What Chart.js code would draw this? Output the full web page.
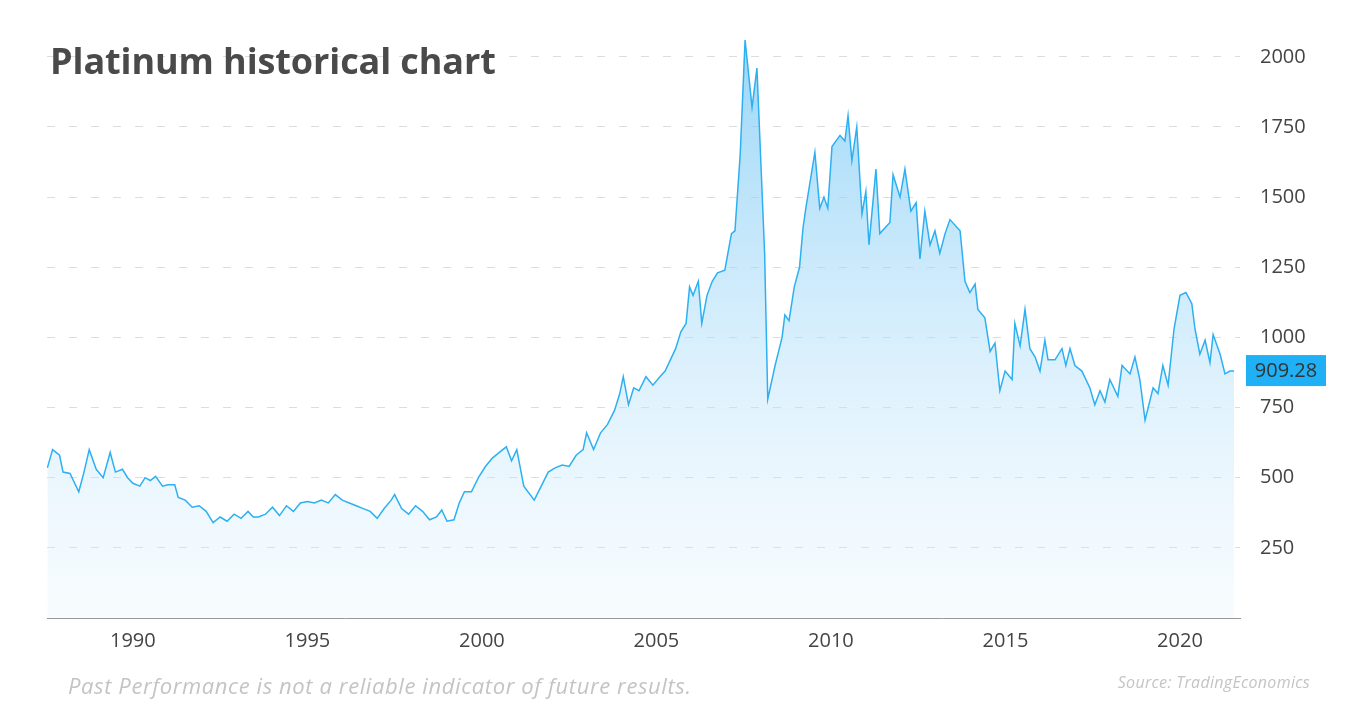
<!DOCTYPE html>
<html>
<head>
<meta charset="utf-8">
<script src="https://cdn.jsdelivr.net/npm/chart.js@4"></script>
<style>
  body { margin: 0; background: #fff; font-family: "Open Sans", sans-serif; }
  #wrap { position: relative; width: 1350px; height: 707px; }
  #title { position: absolute; left: 50px; top: 36px; font: bold 36px "Open Sans", sans-serif; color: #4a4a4a; letter-spacing: -0.1px; }
  #note { position: absolute; left: 68px; top: 670px; font: italic 22px "Open Sans", sans-serif; color: #c4c4c4; letter-spacing: 0.6px; }
  #src { position: absolute; right: 40px; top: 671px; font: italic 16px "Open Sans", sans-serif; color: #c4c4c4; letter-spacing: 0.3px; }
</style>
</head>
<body>
<div id="wrap">
  <canvas id="myChart" width="1350" height="707"></canvas>
  <div id="title">Platinum historical chart</div>
  <div id="note">Past Performance is not a reliable indicator of future results.</div>
  <div id="src">Source: TradingEconomics</div>
</div>
<script>
const years = [1987.55,1987.7,1987.9,1988.0,1988.2,1988.45,1988.6,1988.75,1988.95,1989.15,1989.35,1989.5,1989.7,1989.85,1990.0,1990.2,1990.35,1990.5,1990.65,1990.85,1991.0,1991.2,1991.3,1991.5,1991.7,1991.9,1992.1,1992.3,1992.5,1992.7,1992.9,1993.1,1993.3,1993.45,1993.6,1993.8,1994.0,1994.2,1994.4,1994.6,1994.8,1995.0,1995.2,1995.4,1995.6,1995.8,1996.0,1996.2,1996.4,1996.6,1996.8,1997.0,1997.2,1997.4,1997.5,1997.7,1997.9,1998.1,1998.3,1998.5,1998.7,1998.85,1999.0,1999.2,1999.35,1999.5,1999.7,1999.9,2000.1,2000.3,2000.5,2000.7,2000.85,2001.0,2001.2,2001.5,2001.7,2001.9,2002.1,2002.3,2002.5,2002.7,2002.9,2003.0,2003.2,2003.4,2003.6,2003.8,2003.95,2004.05,2004.2,2004.35,2004.5,2004.7,2004.9,2005.1,2005.25,2005.4,2005.55,2005.7,2005.85,2005.95,2006.05,2006.2,2006.3,2006.45,2006.6,2006.75,2006.96,2007.15,2007.25,2007.4,2007.54,2007.74,2007.88,2008.0,2008.1,2008.19,2008.4,2008.6,2008.68,2008.8,2008.95,2009.1,2009.2,2009.28,2009.54,2009.68,2009.80,2009.91,2010.03,2010.26,2010.40,2010.49,2010.60,2010.74,2010.89,2011.00,2011.09,2011.29,2011.40,2011.69,2011.78,2011.98,2012.12,2012.29,2012.44,2012.55,2012.69,2012.84,2012.98,2013.12,2013.27,2013.41,2013.70,2013.84,2013.98,2014.13,2014.21,2014.41,2014.56,2014.70,2014.84,2014.99,2015.19,2015.27,2015.42,2015.56,2015.70,2015.85,2015.99,2016.13,2016.22,2016.42,2016.62,2016.73,2016.85,2016.99,2017.19,2017.42,2017.56,2017.71,2017.85,2017.99,2018.22,2018.34,2018.57,2018.71,2018.85,2019.00,2019.23,2019.37,2019.51,2019.66,2019.83,2020.00,2020.17,2020.34,2020.43,2020.57,2020.72,2020.86,2020.95,2021.15,2021.29,2021.43,2021.55,2021.66];
const prices = [535,600,580,520,515,450,520,600,530,500,590,520,530,500,480,470,500,490,505,470,475,475,430,420,395,400,380,340,360,345,370,355,380,360,360,370,395,365,400,380,410,415,410,420,410,440,420,410,400,390,380,355,390,420,440,390,370,400,380,350,360,385,345,350,410,450,450,500,540,570,590,610,560,600,470,420,470,520,535,545,540,580,600,660,600,660,690,740,800,860,760,820,810,860,830,860,880,920,960,1020,1050,1180,1150,1200,1050,1150,1200,1230,1240,1370,1380,1650,2060,1820,1960,1600,1300,780,900,1000,1080,1060,1180,1250,1390,1460,1660,1460,1500,1460,1680,1720,1700,1790,1630,1750,1440,1520,1330,1600,1370,1410,1580,1500,1600,1450,1480,1280,1450,1330,1380,1300,1370,1420,1380,1200,1160,1190,1100,1070,950,980,810,880,850,1050,970,1100,960,930,880,990,920,920,960,900,960,900,880,820,760,810,770,850,790,900,870,930,850,705,820,800,900,830,1030,1150,1160,1120,1030,940,990,910,1010,940,870,880,880];
const xTicks = [1990,1995,2000,2005,2010,2015,2020];
const yTicks = [250,500,750,1000,1250,1500,1750,2000];
const lastLabel = '909.28';

const points = years.map((x, i) => ({x: x, y: prices[i]}));

const lastBox = {
  id: 'lastBox',
  afterDraw(chart) {
    const c = chart.ctx;
    const y = chart.scales.y.getPixelForValue(prices[prices.length - 1]);
    c.save();
    c.fillStyle = '#1fb0f5';
    c.fillRect(1246, y - 16, 80, 31);
    c.fillStyle = '#333';
    c.font = '20px "Open Sans", sans-serif';
    c.textAlign = 'center';
    c.textBaseline = 'middle';
    c.fillText(lastLabel, 1286, y);
    c.restore();
  }
};

const ctx = document.getElementById('myChart').getContext('2d');
const grad = ctx.createLinearGradient(0, 40, 0, 618);
grad.addColorStop(0, 'rgba(120,200,245,0.75)');
grad.addColorStop(1, 'rgba(225,242,253,0.25)');

new Chart(ctx, {
  type: 'line',
  data: {
    datasets: [{
      data: points,
      borderColor: '#2db0f2',
      borderWidth: 1.5,
      backgroundColor: grad,
      fill: 'origin',
      pointRadius: 0,
      tension: 0
    }]
  },
  options: {
    responsive: false,
    animation: false,
    layout: { padding: { left: 47, top: 40, right: 0, bottom: 0 } },
    plugins: { legend: { display: false }, tooltip: { enabled: false } },
    scales: {
      x: {
        type: 'linear',
        min: 1987.54,
        max: 2021.72,
        afterFit(s) { s.height = 89; },
        afterBuildTicks(s) { s.ticks = xTicks.map(v => ({value: v})); },
        grid: { display: false, drawTicks: false },
        border: { color: '#999', width: 1 },
        ticks: { color: '#444', font: { size: 20, family: 'Open Sans' }, padding: 11, callback: v => String(v) }
      },
      y: {
        position: 'right',
        min: 0,
        max: 2060,
        afterFit(s) { s.width = 110; },
        afterBuildTicks(s) { s.ticks = yTicks.map(v => ({value: v})); },
        border: { display: false, dash: [8, 14] },
        grid: { color: '#dddddd', drawTicks: false, tickLength: 0 },
        ticks: { color: '#444', font: { size: 20, family: 'Open Sans' }, padding: 20, callback: v => String(v) }
      }
    }
  },
  plugins: [lastBox]
});
</script>
</body>
</html>
